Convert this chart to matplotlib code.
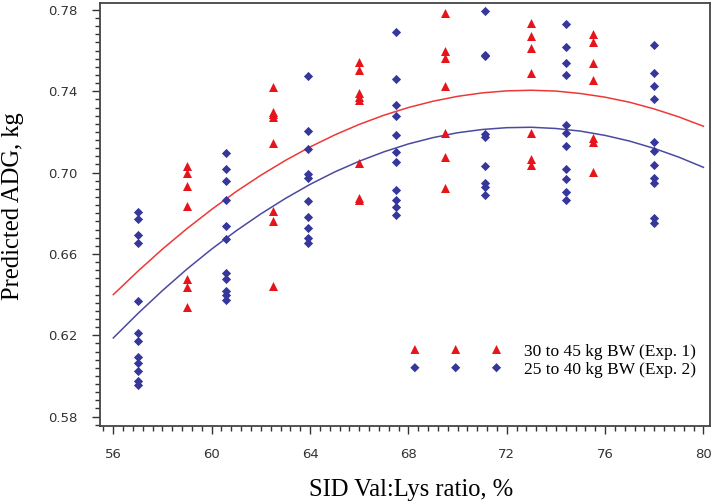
import matplotlib
matplotlib.use('Agg')
import matplotlib.pyplot as plt
from matplotlib.ticker import MultipleLocator, FixedLocator

# Exp. 1 (red triangles): SID Val:Lys ratio and observed ADG per level
exp1_x = [59.0] * 7 + [62.5] * 8 + [66.0] * 8 + [69.5] * 7 + [73.0] * 7 + [75.5] * 7
exp1_y = [0.7034, 0.6997, 0.6934, 0.6837, 0.6475, 0.6436, 0.6339,
          0.7423, 0.7300, 0.7287, 0.7274, 0.7144, 0.6813, 0.6762, 0.6444,
          0.7543, 0.7505, 0.7392, 0.7374, 0.7357, 0.7046, 0.6877, 0.6865,
          0.7784, 0.7598, 0.7562, 0.7428, 0.7193, 0.7078, 0.6923,
          0.7735, 0.7674, 0.7615, 0.7492, 0.7193, 0.7066, 0.7038,
          0.7680, 0.7644, 0.7538, 0.7456, 0.7169, 0.7152, 0.7002]

# Exp. 2 (blue diamonds)
exp2_x = ([57.0] * 12 + [60.6] * 11 + [63.9] * 10 + [67.5] * 11
          + [71.1] * 9 + [74.4] * 11 + [78.0] * 11)
exp2_y = [0.6808, 0.6770, 0.6693, 0.6655, 0.6370, 0.6213, 0.6172, 0.6095, 0.6062, 0.6024, 0.5975, 0.5956,
          0.7095, 0.7016, 0.6957, 0.6865, 0.6738, 0.6675, 0.6505, 0.6478, 0.6418, 0.6397, 0.6375,
          0.7475, 0.7205, 0.7116, 0.6993, 0.6972, 0.6862, 0.6783, 0.6729, 0.6679, 0.6652,
          0.7693, 0.7461, 0.7333, 0.7277, 0.7185, 0.7100, 0.7052, 0.6916, 0.6865, 0.6829, 0.6793,
          0.7795, 0.7579, 0.7574, 0.7189, 0.7177, 0.7033, 0.6948, 0.6931, 0.6890,
          0.7731, 0.7617, 0.7538, 0.7479, 0.7236, 0.7193, 0.7131, 0.7016, 0.6967, 0.6903, 0.6864,
          0.7626, 0.7489, 0.7428, 0.7364, 0.7149, 0.7108, 0.7036, 0.6972, 0.6951, 0.6775, 0.6754]

# predicted curves (every 1 unit)
curve_x = list(range(56, 81))
curve1_y = [0.6400, 0.6515, 0.6624, 0.6725, 0.6819, 0.6907, 0.6987, 0.7060, 0.7126,
            0.7185, 0.7237, 0.7282, 0.7320, 0.7351, 0.7375, 0.7392, 0.7402, 0.7405,
            0.7401, 0.7389, 0.7371, 0.7346, 0.7313, 0.7274, 0.7228]
curve2_y = [0.6187, 0.6307, 0.6420, 0.6526, 0.6624, 0.6714, 0.6797, 0.6873, 0.6942,
            0.7003, 0.7056, 0.7102, 0.7141, 0.7172, 0.7196, 0.7212, 0.7221, 0.7223,
            0.7217, 0.7204, 0.7183, 0.7155, 0.7119, 0.7076, 0.7026]

x_ticks = [56, 60, 64, 68, 72, 76, 80]
y_ticks = [0.58, 0.62, 0.66, 0.70, 0.74, 0.78]

red = '#e8141c'
blue = '#35379a'

fig = plt.figure(figsize=(7.16, 5.04), dpi=100)
ax = fig.add_axes([0.1397, 0.1548, 0.852, 0.8392])

ax.plot(curve_x, curve1_y, color='#ee3838', lw=1.1, zorder=2)
ax.plot(curve_x, curve2_y, color='#4a4aa0', lw=1.1, zorder=2)
ax.scatter(exp1_x, exp1_y, marker='^', s=42, color=red, lw=0, zorder=3,
           label='30 to 45 kg BW (Exp. 1)')
ax.scatter(exp2_x, exp2_y, marker='D', s=22, color=blue, lw=0, zorder=3,
           label='25 to 40 kg BW (Exp. 2)')

ax.set_xlim(55.46, 80.27)
ax.set_ylim(0.5754, 0.7834)
ax.xaxis.set_major_locator(FixedLocator(x_ticks))
ax.xaxis.set_minor_locator(MultipleLocator(0.4))
ax.yaxis.set_major_locator(FixedLocator(y_ticks))
ax.yaxis.set_minor_locator(MultipleLocator(0.004))
ax.yaxis.set_major_formatter(plt.FuncFormatter(lambda v, p: f'{v:.2f}'))

ax.tick_params(which='both', direction='out', top=False, right=False,
               color='#333333', width=1.0)
ax.tick_params(which='major', length=6, pad=10, labelsize=9.5,
               labelcolor='#333333')
ax.tick_params(which='minor', length=3.5)
for tl in ax.get_xticklabels() + ax.get_yticklabels():
    tl.set_family('DejaVu Sans')
for sp in ax.spines.values():
    sp.set_color('#444444')
    sp.set_linewidth(1.3)

ax.set_xlabel('SID Val:Lys ratio, %', family='Liberation Serif', fontsize=17.7)
ax.set_ylabel('Predicted ADG, kg', family='Liberation Serif', fontsize=17.7)
ax.xaxis.set_label_coords(0.51, -0.125)
ax.yaxis.set_label_coords(-0.125, 0.52)

ax.legend(loc='lower right', bbox_to_anchor=(1.003, 0.077), frameon=False,
          scatterpoints=3, scatteryoffsets=[0.5], markerscale=1.0,
          handlelength=5.3, handletextpad=1.3, labelspacing=0.12,
          prop={'family': 'Liberation Serif', 'size': 12.5})

fig.savefig('out.png', dpi=100)
